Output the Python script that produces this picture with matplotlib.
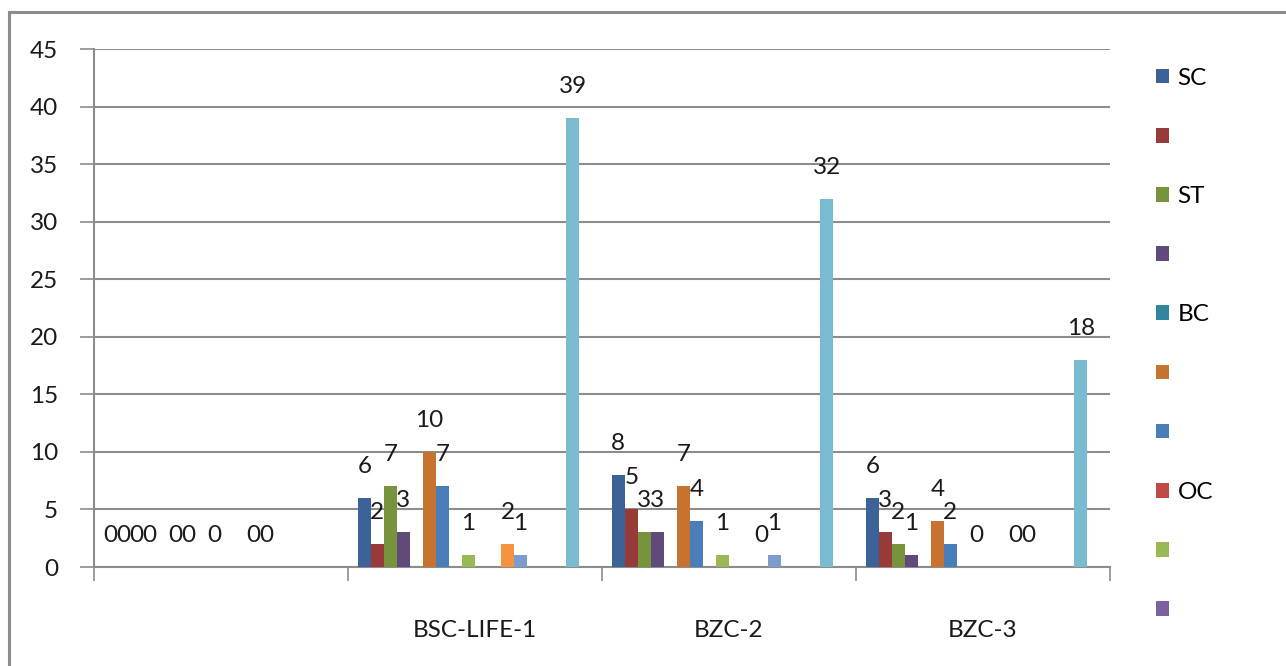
import matplotlib
matplotlib.use("Agg")
import matplotlib.pyplot as plt
from matplotlib.patches import Patch
from matplotlib.lines import Line2D
import numpy as np

plt.rcParams['font.family'] = ['Lato', 'DejaVu Sans']

# data (None = no bar / no label)
categories = ["", "BSC-LIFE-1", "BZC-2", "BZC-3"]
series_names = ["SC", "", "ST", "", "BC", "", "", "OC", "", "",
                "", "", "", "", "", "", "", ""]
series_values = [
    [0, 6, 8, 6],
    [0, 2, 5, 3],
    [0, 7, 3, 2],
    [0, 3, 3, 1],
    [None, None, None, None],
    [0, 10, 7, 4],
    [0, 7, 4, 2],
    [None, None, None, None],
    [0, 1, 1, 0],
    [None, None, None, None],
    [None, None, None, None],
    [0, 2, 0, 0],
    [0, 1, 1, 0],
    [None, None, None, None],
    [None, None, None, None],
    [None, None, None, None],
    [None, 39, 32, 18],
    [None, None, None, None],
]
colors = ["#3C6398", "#983A38", "#77933C", "#604A7B", "#31859C", "#C5732F",
          "#4A7EBB", "#BE4B48", "#98B954", "#7D60A0", "#46AAC5", "#F69240",
          "#7C9CCF", "#D07E7C", "#B2CA7E", "#9C87B8", "#7BBBD0", "#F9AB6B"]

fig = plt.figure(figsize=(12.86, 6.66), dpi=100)
ax = fig.add_axes([94 / 1286, 99 / 666, 1016 / 1286, 518 / 666])

n = len(series_values)
w = 1 / (n + 1.5)
x = np.arange(len(categories))
for i, vals in enumerate(series_values):
    h = [np.nan if v is None else v for v in vals]
    left = x - 0.5 + 0.75 * w + i * w
    ax.bar(left, h, width=w, align='edge', color=colors[i], zorder=3)
    for xl, v in zip(left, vals):
        if v is None:
            continue
        ax.annotate(str(v), (xl + w / 2, v), xytext=(0, 21),
                    textcoords='offset pixels', ha='center', va='bottom',
                    fontsize=17.5, color='#1a1a1a', zorder=4)

ax.set_xlim(-0.5, len(categories) - 0.5)
ax.set_ylim(0, 45)
ax.set_yticks(range(0, 46, 5))
ax.yaxis.grid(True, color='#8c8c8c', linewidth=1.5, zorder=0)
ax.tick_params(axis='y', length=10, width=1.2, color='#8c8c8c',
               labelsize=17.5, pad=16, labelcolor='#1a1a1a')

ax.set_xticks(np.arange(-0.5, len(categories), 1.0))
ax.set_xticklabels([])
ax.tick_params(axis='x', which='major', length=10, width=1.2, color='#8c8c8c')
ax.set_xticks(x, minor=True)
ax.set_xticklabels(categories, minor=True)
ax.tick_params(axis='x', which='minor', length=0, pad=38,
               labelsize=17.5, labelcolor='#1a1a1a')

for s in ['top', 'right']:
    ax.spines[s].set_visible(False)
for s in ['left', 'bottom']:
    ax.spines[s].set_color('#8c8c8c')
    ax.spines[s].set_linewidth(1.5)

handles = [Patch(facecolor=colors[i], edgecolor='none') for i in range(10)]
fig.legend(handles, series_names[:10], loc='upper left',
           bbox_to_anchor=(1146 / 1286, 1 - 58 / 666), frameon=False,
           fontsize=17.5, handlelength=0.55, handleheight=0.55,
           handletextpad=0.35, labelspacing=1.57, borderaxespad=0)

# outer chart border (only left and top edges are visible)
fig.add_artist(Line2D([9 / 1286, 9 / 1286], [0, 1 - 12 / 666],
                      transform=fig.transFigure, color='#8c8c8c', linewidth=2.2))
fig.add_artist(Line2D([9 / 1286, 1], [1 - 12 / 666, 1 - 12 / 666],
                      transform=fig.transFigure, color='#8c8c8c', linewidth=2.2))

fig.savefig("out.png", dpi=100)
